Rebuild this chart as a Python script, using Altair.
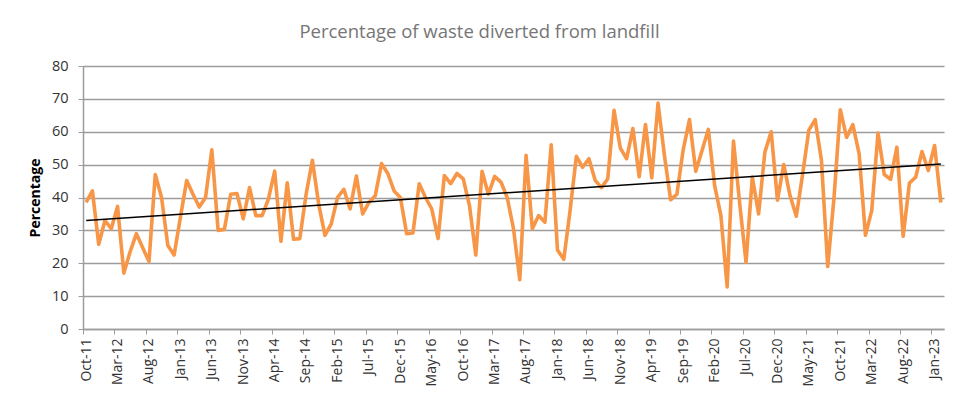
import json
import altair as alt
import pandas as pd

# Monthly values, Oct-11 .. Feb-23
values = [
    38.5, 42, 25.8, 33, 30.5, 37.3, 17, 23.5, 29, 24.7,
    20.5, 47, 40, 25.4, 22.5, 34, 45.2, 41, 37.1, 40,
    54.5, 30, 30.3, 41, 41.2, 33.5, 43, 34.5, 34.5, 39.5,
    48, 26.7, 44.5, 27.3, 27.5, 41, 51.3, 38, 28.5, 32,
    40, 42.5, 36.5, 46.5, 35, 38.5, 40.5, 50.3, 47.3, 42,
    40, 29, 29.2, 44.2, 40, 36.5, 27.5, 46.7, 44.2, 47.3,
    45.7, 37.5, 22.5, 48, 41, 46.4, 44.7, 40, 30.5, 15,
    52.8, 30.5, 34.5, 32.5, 56, 24, 21.2, 36, 52.5, 49.2,
    51.8, 45.2, 43, 45.7, 66.5, 55, 51.8, 61, 46.3, 62.2,
    46, 68.7, 53, 39.3, 41, 54.5, 63.7, 48, 54.3, 60.7,
    43.7, 34.5, 12.8, 57.2, 38, 20.3, 46.2, 35, 53.8, 60,
    39.2, 50, 40.6, 34.3, 47, 60.5, 63.7, 51.3, 19, 40,
    66.7, 58.3, 62.2, 53.3, 28.5, 36, 59.6, 47, 45.5, 55.3,
    28.2, 44.4, 46.2, 54, 48.2, 55.8, 38.5,
]

tick_labels = [
    "Oct-11", "Mar-12", "Aug-12", "Jan-13", "Jun-13", "Nov-13", "Apr-14",
    "Sep-14", "Feb-15", "Jul-15", "Dec-15", "May-16", "Oct-16", "Mar-17",
    "Aug-17", "Jan-18", "Jun-18", "Nov-18", "Apr-19", "Sep-19", "Feb-20",
    "Jul-20", "Dec-20", "May-21", "Oct-21", "Mar-22", "Aug-22", "Jan-23",
]

y_ticks = [0, 10, 20, 30, 40, 50, 60, 70, 80]

df = pd.DataFrame({"i": list(range(len(values))), "v": values})
n = len(values)
tick_vals = [k * 5 - 0.5 for k in range(len(tick_labels))]
label_expr = json.dumps(tick_labels) + "[round((datum.value + 0.5) / 5)]"

FONT = "Open Sans"
GRID = "#9c9c9c"
LABEL = "#333333"

x_enc = alt.X(
    "i:Q",
    scale=alt.Scale(domain=[-0.5, n - 0.5], nice=False, zero=False),
    axis=alt.Axis(
        values=tick_vals,
        labelExpr=label_expr,
        labelAngle=-90,
        labelOffset=3,
        labelFont=FONT,
        labelFontSize=14,
        labelColor=LABEL,
        labelPadding=4,
        labelOverlap=False,
        labelFlush=False,
        labelBound=False,
        tickSize=5,
        tickColor=GRID,
        domainColor=GRID,
        domainWidth=1.5,
        grid=False,
        title=None,
    ),
)

y_enc = alt.Y(
    "v:Q",
    scale=alt.Scale(domain=[0, 80], nice=False),
    axis=alt.Axis(
        values=y_ticks,
        title="Percentage",
        titleFont=FONT,
        titleFontSize=14,
        titleFontWeight="bold",
        titleColor="#000000",
        titlePadding=9,
        labelFont=FONT,
        labelFontSize=14.5,
        labelColor=LABEL,
        labelPadding=10,
        tickSize=5,
        tickColor=GRID,
        domainColor=GRID,
        domainWidth=1.5,
        grid=True,
        gridColor=GRID,
        gridWidth=1.3,
    ),
)

base = alt.Chart(df)

line = base.mark_line(color="#F79646", strokeWidth=3.6, strokeJoin="round").encode(
    x=x_enc, y=y_enc
)

trend = (
    base.transform_regression("i", "v", method="linear")
    .mark_line(color="#000000", strokeWidth=1.5)
    .encode(x=x_enc, y=y_enc)
)

chart = (
    alt.layer(line, trend)
    .properties(
        width=861,
        height=263,
        title=alt.TitleParams(
            "Percentage of waste diverted from landfill",
            font=FONT,
            fontSize=18.5,
            fontWeight="normal",
            color="#767676",
            anchor="middle",
            dx=-34,
            offset=17,
        ),
        autosize=alt.AutoSizeParams(type="none"),
        padding={"left": 75, "top": 58, "right": 13, "bottom": 70},
    )
    .configure_view(stroke=None)
)

chart.save("out.html", embed_options={"renderer": "svg", "actions": False})
